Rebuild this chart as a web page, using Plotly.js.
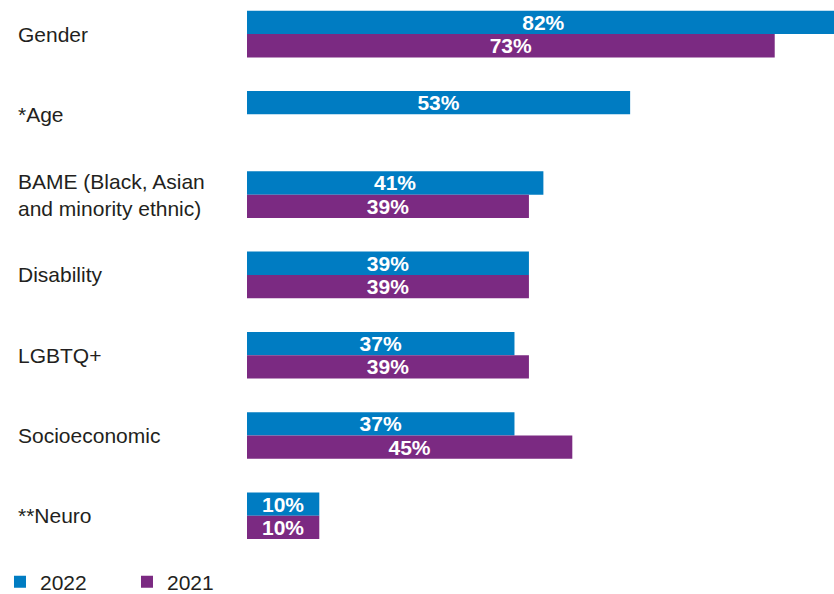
<!DOCTYPE html>
<html>
<head>
<meta charset="utf-8">
<script src="https://cdn.plot.ly/plotly-3.0.1.min.js"></script>
<style>html,body{margin:0;padding:0;background:#fff;}#chart{width:834px;height:594px;}</style>
</head>
<body>
<div id="chart"></div>
<script>
const categories = ['Gender', '*Age', 'BAME (Black, Asian<br>and minority ethnic)', 'Disability', 'LGBTQ+', 'Socioeconomic', '**Neuro'];
const values2022 = [82, 53, 41, 39, 37, 37, 10];
const values2021 = [73, null, 39, 39, 39, 45, 10];
const seriesNames = ['2022', '2021'];
const colors = ['#007cc2', '#7b2a82'];

const labelFont = {family: 'Liberation Sans, Arial, sans-serif', size: 21, color: '#231f20'};
const barTextFont = {family: 'Liberation Sans, Arial, sans-serif', size: 21, color: '#ffffff', weight: 'bold'};

function mkTrace(vals, name, color) {
  return {
    type: 'bar', orientation: 'h',
    y: categories, x: vals, name: name,
    marker: {color: color, line: {width: 0}},
    text: vals.map(v => v == null ? '' : v + '%'),
    textposition: 'inside', insidetextanchor: 'middle',
    textangle: 0, constraintext: 'none',
    textfont: barTextFont,
    hoverinfo: 'skip'
  };
}

const data = [mkTrace(values2022, seriesNames[0], colors[0]), mkTrace(values2021, seriesNames[1], colors[1])];

const annotations = categories.map(c => ({
  xref: 'paper', yref: 'y', x: -0.3935, y: c, xanchor: 'left', yanchor: 'middle',
  text: c, showarrow: false, align: 'left', font: labelFont
}));

const layout = {
  width: 834, height: 594,
  margin: {l: 247, r: 0, t: 5, b: 34, autoexpand: false},
  paper_bgcolor: '#ffffff', plot_bgcolor: '#ffffff',
  barmode: 'group', bargap: 0.42, bargroupgap: 0,
  xaxis: {range: [0, 81.2], visible: false, fixedrange: true},
  yaxis: {type: 'category', range: [6.552, -0.3626], showticklabels: false, showgrid: false, zeroline: false, showline: false, ticks: ''},
  showlegend: true,
  legend: {orientation: 'h', x: -0.4208, xanchor: 'left', y: -0.040, yanchor: 'middle',
           font: labelFont, entrywidth: 82, traceorder: 'normal', bgcolor: 'rgba(0,0,0,0)'},
  annotations: annotations,
  font: labelFont
};

Plotly.newPlot('chart', data, layout, {displayModeBar: false, staticPlot: true});
</script>
</body>
</html>
